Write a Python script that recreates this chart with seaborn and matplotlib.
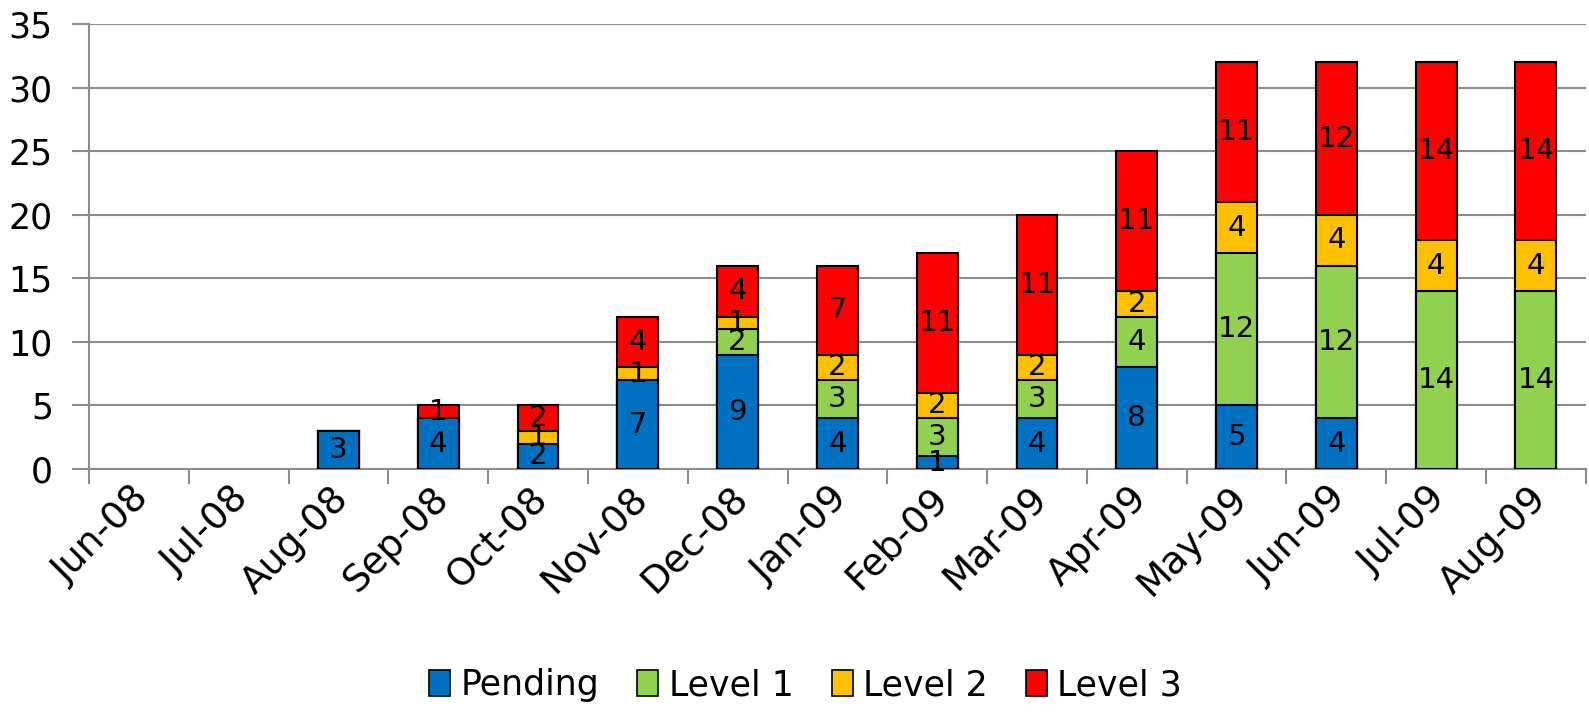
import numpy as np
import pandas as pd
import matplotlib
matplotlib.use("Agg")
import matplotlib.pyplot as plt
import matplotlib.transforms as mtransforms
from matplotlib.patches import Patch
import seaborn as sns

# Data
months = ["Jun-08", "Jul-08", "Aug-08", "Sep-08", "Oct-08", "Nov-08", "Dec-08", "Jan-09",
          "Feb-09", "Mar-09", "Apr-09", "May-09", "Jun-09", "Jul-09", "Aug-09"]
pending = [0, 0, 3, 4, 2, 7, 9, 4, 1, 4, 8, 5, 4, 0, 0]
level1 = [0, 0, 0, 0, 0, 0, 2, 3, 3, 3, 4, 12, 12, 14, 14]
level2 = [0, 0, 0, 0, 1, 1, 1, 2, 2, 2, 2, 4, 4, 4, 4]
level3 = [0, 0, 0, 1, 2, 4, 4, 7, 11, 11, 11, 11, 12, 14, 14]

series = ["Pending", "Level 1", "Level 2", "Level 3"]
colors = ["#0070C0", "#92D050", "#FFC000", "#FF0000"]

df = pd.DataFrame({"Month": months, "Pending": pending, "Level 1": level1,
                   "Level 2": level2, "Level 3": level3})
cum = df[series].cumsum(axis=1)
total = cum["Level 3"]

sns.set_style("white")
plt.rcParams["font.family"] = ["DejaVu Sans"]
plt.rcParams["text.color"] = "black"

fig = plt.figure(figsize=(15.89, 7.16), dpi=100)
ax = fig.add_axes([0.056, 0.345, 0.942, 0.621])
ax.set_axisbelow(True)

# stacked bars: draw cumulative heights from the top layer down
for s, c in zip(series[::-1], colors[::-1]):
    h = cum[s].where(total > 0)
    sns.barplot(x=df["Month"], y=h, color=c, width=0.41, edgecolor="black",
                linewidth=1.5, saturation=1, ax=ax, zorder=3)

# segment labels
bottoms = np.zeros(len(months))
for s in series:
    vals = df[s].to_numpy()
    for i, v in enumerate(vals):
        if v > 0:
            ax.text(i, bottoms[i] + v / 2, str(v), ha="center", va="center",
                    fontsize=21, color="black", zorder=5)
    bottoms += vals

ax.set_ylim(0, 35)
ax.set_yticks(range(0, 36, 5))
ax.set_xlim(-0.5, len(months) - 0.5)
ax.set_xticks(range(len(months)))
ax.set_xticklabels(months, rotation=45, ha="right", rotation_mode="anchor")
ax.set_xticks(np.arange(-0.5, len(months)), minor=True)
ax.set_xlabel("")
ax.set_ylabel("")

ax.grid(axis="y", color="#8c8c8c", linewidth=1.5)
for side in ["top", "right"]:
    ax.spines[side].set_visible(False)
for side in ["left", "bottom"]:
    ax.spines[side].set_color("#8c8c8c")
    ax.spines[side].set_linewidth(1.5)

ax.tick_params(axis="y", labelsize=25, labelcolor="black", length=12, width=1.5,
               color="#8c8c8c", pad=14, left=True)
ax.tick_params(axis="x", which="major", labelsize=27, labelcolor="black", length=0, pad=8)
ax.tick_params(axis="x", which="minor", length=11, width=1.5, color="#8c8c8c", bottom=True)

shift = mtransforms.ScaledTranslation(-8 / 100, 0, fig.dpi_scale_trans)
for lab in ax.get_xticklabels():
    lab.set_transform(lab.get_transform() + shift)

handles = [Patch(facecolor=c, edgecolor="black", linewidth=1.2, label=s) for s, c in zip(series, colors)]
fig.legend(handles=handles, loc="center", bbox_to_anchor=(0.507, 0.043), ncol=4,
           frameon=False, fontsize=25, handlelength=0.6, handleheight=0.75,
           handletextpad=0.3, columnspacing=1.1, labelcolor="black")

fig.savefig("out.png", dpi=100)
